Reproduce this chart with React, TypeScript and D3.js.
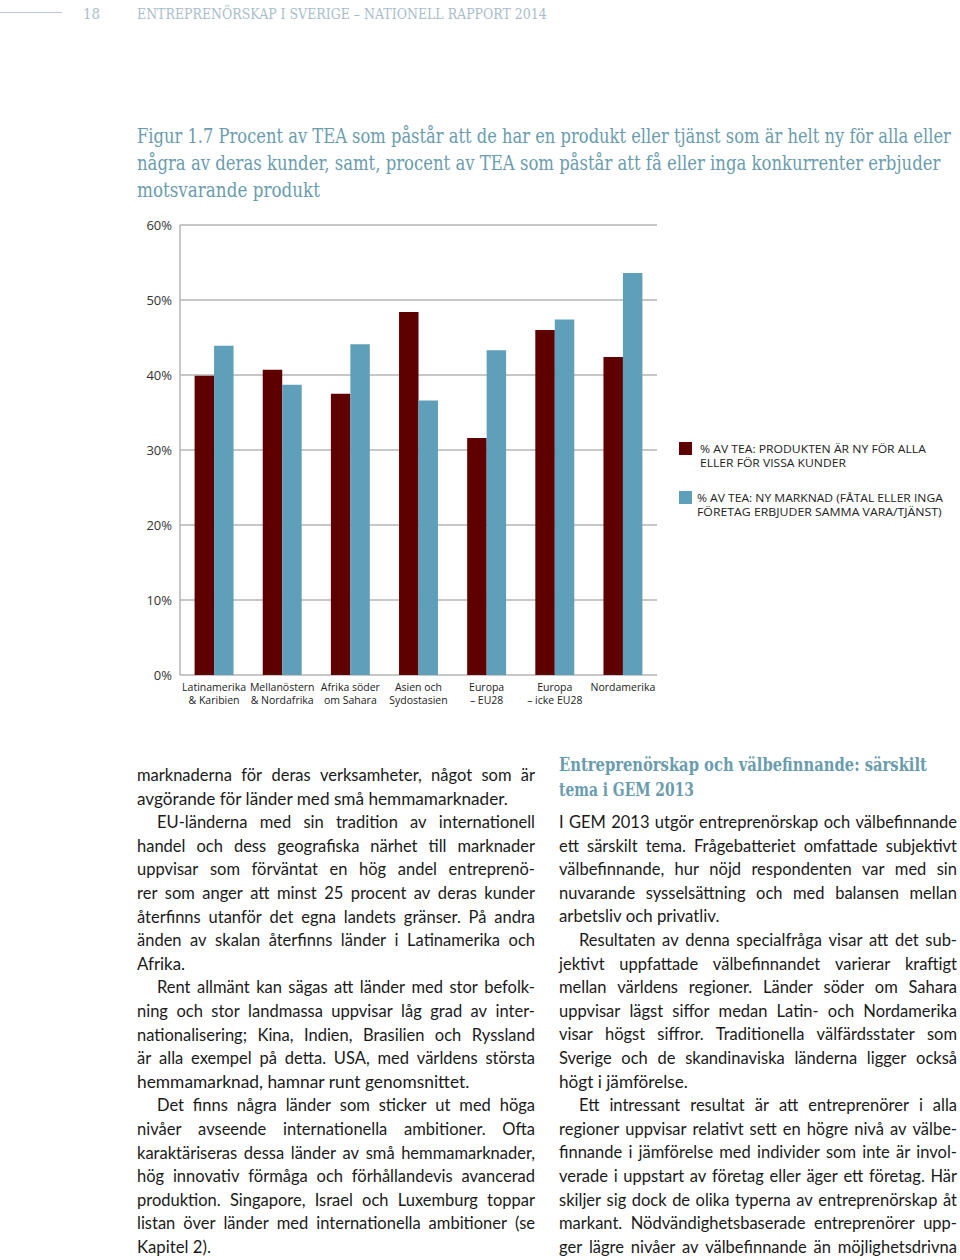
import React from "react";
import * as d3 from "d3";

const categories = [
  ["Latinamerika", "& Karibien"],
  ["Mellanöstern", "& Nordafrika"],
  ["Afrika söder", "om Sahara"],
  ["Asien och", "Sydostasien"],
  ["Europa", "– EU28"],
  ["Europa", "– icke EU28"],
  ["Nordamerika", ""],
];
const seriesNames = [
  ["% AV TEA: PRODUKTEN ÄR NY FÖR ALLA", "ELLER FÖR VISSA KUNDER"],
  ["% AV TEA: NY MARKNAD (FÅTAL ELLER INGA", "FÖRETAG ERBJUDER SAMMA VARA/TJÄNST)"],
];
const newProduct = [39.9, 40.7, 37.5, 48.4, 31.6, 46.0, 42.4];
const newMarket = [43.9, 38.7, 44.1, 36.6, 43.3, 47.4, 53.6];
const yTicks = [0, 10, 20, 30, 40, 50, 60];
const colors = ["#5e0000", "#5f9fba"];

const headerText = "ENTREPRENÖRSKAP I SVERIGE – NATIONELL RAPPORT 2014";
const titleLines = [
  "Figur 1.7 Procent av TEA som påstår att de har en produkt eller tjänst som är helt ny för alla eller",
  "några av deras kunder, samt, procent av TEA som påstår att få eller inga konkurrenter erbjuder",
  "motsvarande produkt",
];
const titleWidths = [814, 804, 183];

// [text, indent, justified, endX(optional for last lines)]
const leftLines: [string, boolean, boolean, number?][] = [
  ["marknaderna för deras verksamheter, något som är", false, true],
  ["avgörande för länder med små hemmamarknader.", false, false, 509],
  ["EU-länderna med sin tradition av internationell", true, true],
  ["handel och dess geografiska närhet till marknader", false, true],
  ["uppvisar som förväntat en hög andel entreprenö-", false, true],
  ["rer som anger att minst 25 procent av deras kunder", false, true],
  ["återfinns utanför det egna landets gränser. På andra", false, true],
  ["änden av skalan återfinns länder i Latinamerika och", false, true],
  ["Afrika.", false, false, 185],
  ["Rent allmänt kan sägas att länder med stor befolk-", true, true],
  ["ning och stor landmassa uppvisar låg grad av inter-", false, true],
  ["nationalisering; Kina, Indien, Brasilien och Ryssland", false, true],
  ["är alla exempel på detta. USA, med världens största", false, true],
  ["hemmamarknad, hamnar runt genomsnittet.", false, false, 470],
  ["Det finns några länder som sticker ut med höga", true, true],
  ["nivåer avseende internationella ambitioner. Ofta", false, true],
  ["karaktäriseras dessa länder av små hemmamarknader,", false, true],
  ["hög innovativ förmåga och förhållandevis avancerad", false, true],
  ["produktion. Singapore, Israel och Luxemburg toppar", false, true],
  ["listan över länder med internationella ambitioner (se", false, true],
  ["Kapitel 2).", false, false, 211],
];
const rightHeading = ["Entreprenörskap och välbefinnande: särskilt", "tema i GEM 2013"];
const rightHeadingWidths = [368, 135];
const rightLines: [string, boolean, boolean, number?][] = [
  ["I GEM 2013 utgör entreprenörskap och välbefinnande", false, true],
  ["ett särskilt tema. Frågebatteriet omfattade subjektivt", false, true],
  ["välbefinnande, hur nöjd respondenten var med sin", false, true],
  ["nuvarande sysselsättning och med balansen mellan", false, true],
  ["arbetsliv och privatliv.", false, false, 720],
  ["Resultaten av denna specialfråga visar att det sub-", true, true],
  ["jektivt uppfattade välbefinnandet varierar kraftigt", false, true],
  ["mellan världens regioner. Länder söder om Sahara", false, true],
  ["uppvisar lägst siffor medan Latin- och Nordamerika", false, true],
  ["visar högst siffror. Traditionella välfärdsstater som", false, true],
  ["Sverige och de skandinaviska länderna ligger också", false, true],
  ["högt i jämförelse.", false, false, 688],
  ["Ett intressant resultat är att entreprenörer i alla", true, true],
  ["regioner uppvisar relativt sett en högre nivå av välbe-", false, true],
  ["finnande i jämförelse med individer som inte är invol-", false, true],
  ["verade i uppstart av företag eller äger ett företag. Här", false, true],
  ["skiljer sig dock de olika typerna av entreprenörskap åt", false, true],
  ["markant. Nödvändighetsbaserade entreprenörer upp-", false, true],
  ["ger lägre nivåer av välbefinnande än möjlighetsdrivna", false, true],
];

const BODY_FONT = "Lato";
const BODY_SIZE = 16.5;
let ctx: CanvasRenderingContext2D | null = null;
function measureFont(s: string, font: string) {
  if (!ctx) ctx = document.createElement("canvas").getContext("2d");
  ctx!.font = font;
  return ctx!.measureText(s).width;
}
function measure(s: string) {
  return measureFont(s, `${BODY_SIZE}px ${BODY_FONT}`);
}

// Text squeezed horizontally to an exact width by a scale transform
function FitText({ text, x, y, width, family, size, weight = "normal", fill }: {
  text: string; x: number; y: number; width: number; family: string; size: number; weight?: string; fill?: string;
}) {
  const natural = measureFont(text, `${weight} ${size}px "${family}"`);
  const sx = natural > 0 ? width / natural : 1;
  return (
    <text transform={`translate(${x},${y}) scale(${sx},1)`} fontFamily={family} fontSize={size} fontWeight={weight} fill={fill}>
      {text}
    </text>
  );
}

function JustLine({ text, x0, x1, y, justify }: { text: string; x0: number; x1: number; y: number; justify: boolean }) {
  const target = x1 - x0;
  if (!justify) {
    return <FitText text={text} x={x0} y={y} width={target} family={BODY_FONT} size={BODY_SIZE} />;
  }
  const words = text.split(" ");
  const widths = words.map(measure);
  const total = d3.sum(widths);
  const spaceW = measure(" ");
  const minTotal = total + spaceW * 0.6 * (words.length - 1);
  const sx = minTotal > target ? target / minTotal : 1;
  const gap = words.length > 1 ? (target - total * sx) / (words.length - 1) : 0;
  let cx = x0;
  const out: JSX.Element[] = [];
  words.forEach((w, i) => {
    out.push(
      <text key={i} transform={`translate(${cx},${y}) scale(${sx},1)`}>
        {w}
      </text>
    );
    cx += widths[i] * sx + gap;
  });
  return <g>{out}</g>;
}

function Column({ lines, x0, x1, y0, step }: { lines: [string, boolean, boolean, number?][]; x0: number; x1: number; y0: number; step: number }) {
  return (
    <g fontFamily={BODY_FONT} fontSize={BODY_SIZE} fill="#1a1a1a">
      {lines.map(([t, indent, just, end], i) => {
        const xs = indent ? x0 + 20 : x0;
        const xe = just ? x1 : (end as number);
        return <JustLine key={i} text={t} x0={xs} x1={xe} y={y0 + i * step} justify={just} />;
      })}
    </g>
  );
}

export default function App() {
  const W = 960, H = 1260;
  const plotL = 180, plotR = 657, plotT = 225, plotB = 675;
  const x0 = d3.scaleBand<number>().domain(d3.range(categories.length)).range([plotL, plotR]).paddingInner(0).paddingOuter(0);
  const x1 = d3.scaleBand<number>().domain([0, 1]).range([0, x0.bandwidth()]).paddingInner(0).paddingOuter(0.75);
  const y = d3.scaleLinear().domain([0, 60]).range([plotB, plotT]);
  const series = [newProduct, newMarket];
  const SERIF = "DejaVu Serif Condensed";
  const LEG = "Open Sans";

  return (
    <svg width={W} height={H} style={{ display: "block", position: "absolute", left: 0, top: 0 }}>
      <rect width={W} height={H} fill="#fff" />
      {/* header */}
      <line x1={0} x2={62} y1={12.5} y2={12.5} stroke="#b8c8d2" strokeWidth={1} />
      <FitText text="18" x={83} y={19} width={17} family={SERIF} size={15} fill="#a9bdc9" />
      <FitText text={headerText} x={137} y={19} width={410} family={SERIF} size={15} fill="#a9bdc9" />
      {/* title */}
      {titleLines.map((t, i) => (
        <FitText key={i} text={t} x={137} y={143 + i * 27} width={titleWidths[i]} family={SERIF} size={19.5} fill="#6a9cad" />
      ))}
      {/* grid */}
      <g>
        {yTicks.map((t) => (
          <line key={t} x1={plotL} x2={plotR} y1={y(t)} y2={y(t)} stroke="#b5b5b5" strokeWidth={1.5} />
        ))}
        <line x1={plotL} x2={plotL} y1={plotT} y2={plotB} stroke="#b5b5b5" strokeWidth={1.5} />
      </g>
      <g fontFamily="Open Sans" fontSize={13} fill="#333" textAnchor="end">
        {yTicks.map((t) => (
          <text key={t} x={172} y={y(t) + 4.5}>{`${t}%`}</text>
        ))}
      </g>
      {/* bars */}
      {series.map((vals, si) => (
        <g key={si} fill={colors[si]}>
          {vals.map((v, ci) => (
            <rect key={ci} x={(x0(ci) as number) + (x1(si) as number)} y={y(v)} width={x1.bandwidth()} height={y(0) - y(v)} />
          ))}
        </g>
      ))}
      {/* x labels */}
      <g fontFamily="Open Sans" fontSize={10.5} fill="#222" textAnchor="middle">
        {categories.map((c, ci) => (
          <g key={ci}>
            <text x={(x0(ci) as number) + x0.bandwidth() / 2} y={691}>{c[0]}</text>
            <text x={(x0(ci) as number) + x0.bandwidth() / 2} y={704}>{c[1]}</text>
          </g>
        ))}
      </g>
      {/* legend */}
      <rect x={679} y={442} width={13} height={13} fill={colors[0]} />
      <FitText text={seriesNames[0][0]} x={700} y={453} width={226} family={LEG} size={11.5} fill="#222" />
      <FitText text={seriesNames[0][1]} x={700} y={467} width={146} family={LEG} size={11.5} fill="#222" />
      <rect x={679} y={491} width={13} height={13} fill={colors[1]} />
      <FitText text={seriesNames[1][0]} x={697} y={502} width={246} family={LEG} size={11.5} fill="#222" />
      <FitText text={seriesNames[1][1]} x={697} y={516} width={245} family={LEG} size={11.5} fill="#222" />
      {/* body text */}
      <Column lines={leftLines} x0={137} x1={535} y0={781} step={23.6} />
      {rightHeading.map((t, i) => (
        <FitText key={i} text={t} x={559} y={771 + i * 25} width={rightHeadingWidths[i]} family={SERIF} size={18} weight="bold" fill="#6a9cad" />
      ))}
      <Column lines={rightLines} x0={559} x1={957} y0={828} step={23.6} />
    </svg>
  );
}
